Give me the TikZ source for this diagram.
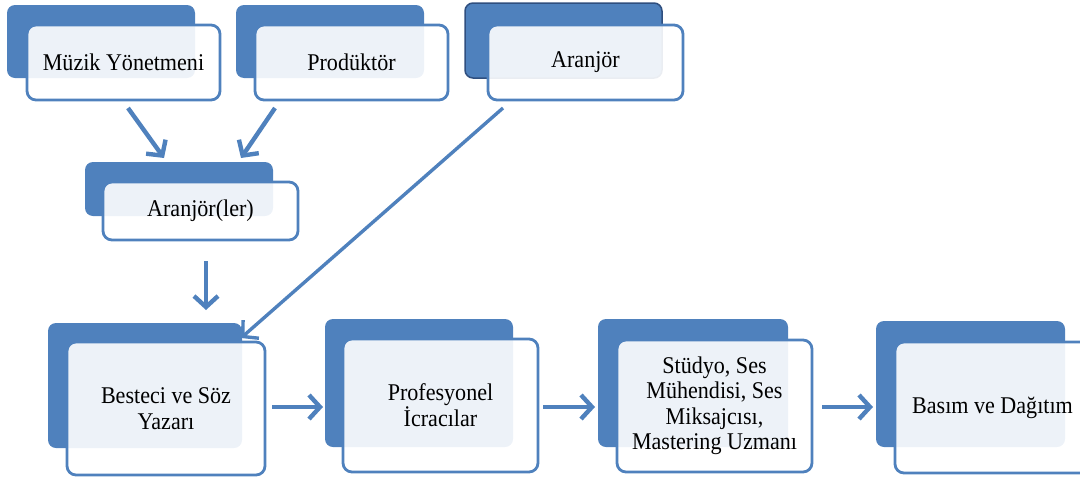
\documentclass[tikz,border=0pt]{standalone}
\usepackage{fontspec}
\setmainfont[FakeStretch=0.92]{Liberation Serif}
\usetikzlibrary{arrows.meta,calc}
\definecolor{blu}{HTML}{4F81BD}
\definecolor{dblu}{HTML}{2F4F7F}
\begin{document}
\begin{tikzpicture}[x=1pt,y=-1pt,
  backb/.style={fill=blu, rounded corners=8pt, anchor=north west, inner sep=0pt, outer sep=0pt},
  frontb/.style={draw=blu, line width=2.8pt, fill=white, fill opacity=0.9, draw opacity=1, text opacity=1,
    rounded corners=9pt, anchor=north west, inner sep=0pt, outer sep=0pt, align=center,
    font=\fontsize{24}{26}\selectfont, text=black},
  arr/.style={draw=blu, line width=4.4pt, -{Straight Barb[length=11pt,width=24pt]}}
]
\useasboundingbox (0,0) rectangle (1080,477);
\clip (0,0) rectangle (1080,477);
% top row
\node[backb, minimum width=188pt, minimum height=73pt] (mb) at (7,5) {};
\node[frontb, minimum width=193pt, minimum height=75pt] (mf) at (27,25) {Müzik Yönetmeni};
\node[backb, minimum width=188pt, minimum height=73pt] (pb) at (236,5) {};
\node[frontb, minimum width=193pt, minimum height=75pt] (pf) at (255,25) {Prodüktör};
\node[backb, draw=dblu, line width=1.5pt, minimum width=197pt, minimum height=75pt] (ab) at (465,3) {};
\node[frontb, minimum width=195pt, minimum height=75pt] (af) at (488,25) {Aranjör};
% middle
\node[backb, minimum width=188pt, minimum height=54pt] (lb) at (85,162) {};
\node[frontb, minimum width=195pt, minimum height=58pt] (lf) at (103,182) {Aranjör(ler)};
% bottom row
\node[backb, minimum width=194pt, minimum height=125pt] (bb) at (48,323) {};
\node[frontb, minimum width=198pt, minimum height=133pt] (bf) at (67,342) {Besteci ve Söz\\Yazarı};
\node[backb, minimum width=188pt, minimum height=128pt] (qb) at (325,319) {};
\node[frontb, minimum width=195pt, minimum height=133pt] (qf) at (343,339) {Profesyonel\\İcracılar};
\node[backb, minimum width=190pt, minimum height=128pt] (sb) at (598,319) {};
\node[frontb, minimum width=195pt, minimum height=132pt, font=\fontsize{24}{25.5}\selectfont] (sf) at (617,340) {Stüdyo, Ses\\Mühendisi, Ses\\Miksajcısı,\\Mastering Uzmanı};
\node[backb, minimum width=189pt, minimum height=126pt] (tb) at (876,321) {};
\node[frontb, minimum width=195pt, minimum height=131pt] (tf) at (895,342) {Basım ve Dağıtım};
% arrows
\draw[arr] ($(mf.south west)+(101,8)$) -- ($(lb.north west)+(79,-4)$);
\draw[arr] ($(pf.south west)+(20,8)$) -- ($(lb.north west)+(156,-4)$);
\draw[arr, line width=3.4pt] ($(af.south west)+(15,8)$) -- ($(bb.north east)+(-1,15)$);
\draw[arr] ($(lf.south west)+(103,21)$) -- ($(bb.north west)+(158,-13)$);
\coordinate (row) at (0,407);
\draw[arr] ($(bf.east |- row)+(7,0)$) -- ($(qf.west |- row)+(-20,0)$);
\draw[arr] ($(qf.east |- row)+(5,0)$) -- ($(sf.west |- row)+(-22,0)$);
\draw[arr] ($(sf.east |- row)+(10,0)$) -- ($(tf.west |- row)+(-22,0)$);
\end{tikzpicture}
\end{document}
